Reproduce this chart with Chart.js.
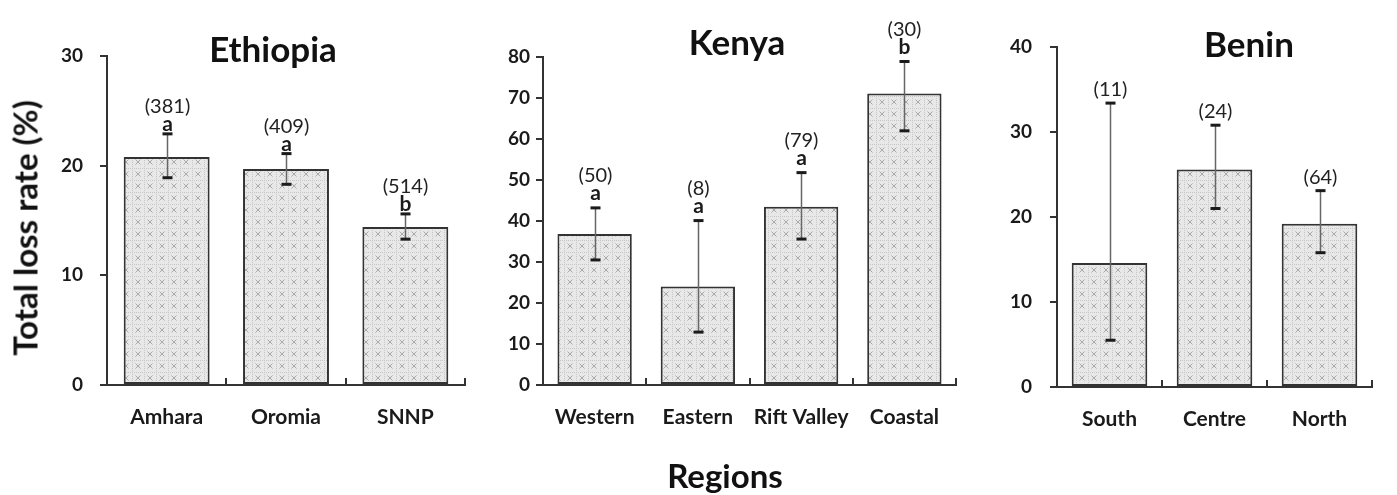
<!DOCTYPE html>
<html>
<head>
<meta charset="utf-8">
<script src="https://cdn.jsdelivr.net/npm/chart.js@4.4.1/dist/chart.umd.min.js"></script>
<style>
  html, body { margin: 0; padding: 0; background: #fff; }
  #wrap { position: relative; width: 1397px; height: 495px; overflow: hidden; font-family: Lato, sans-serif; }
  #wrap canvas { position: absolute; top: 0; }
  .axis-title { position: absolute; font-weight: bold; color: #111; white-space: nowrap; line-height: 1; }
  #ytitle { left: 25px; top: 228px; font-size: 33px; transform: translate(-50%, -50%) rotate(-90deg); }
  #xtitle { left: 725px; top: 475px; font-size: 33px; transform: translate(-50%, -50%); }
</style>
</head>
<body>
<div id="wrap">
  <canvas id="c-eth" width="480" height="495" style="left:0px"></canvas>
  <canvas id="c-ken" width="500" height="495" style="left:480px"></canvas>
  <canvas id="c-ben" width="417" height="495" style="left:980px"></canvas>
  <div class="axis-title" id="ytitle">Total loss rate (%)</div>
  <div class="axis-title" id="xtitle">Regions</div>
</div>
<script>
// ---- Ethiopia ----
const ethiopiaRegions = ['Amhara', 'Oromia', 'SNNP'];
const ethiopiaLoss    = [20.8, 19.7, 14.4];
const ethiopiaLow     = [18.9, 18.3, 13.3];
const ethiopiaHigh    = [22.9, 21.1, 15.6];
const ethiopiaCounts  = ['(381)', '(409)', '(514)'];
const ethiopiaGroups  = ['a', 'a', 'b'];
const ethiopiaAxisMax = 30;
const ethiopiaAxisStep = 10;

// ---- Kenya ----
const kenyaRegions = ['Western', 'Eastern', 'Rift Valley', 'Coastal'];
const kenyaLoss    = [36.8, 24.0, 43.5, 71.1];
const kenyaLow     = [30.5, 12.9, 35.6, 62.0];
const kenyaHigh    = [43.2, 40.1, 51.8, 78.9];
const kenyaCounts  = ['(50)', '(8)', '(79)', '(30)'];
const kenyaGroups  = ['a', 'a', 'a', 'b'];
const kenyaAxisMax = 80;
const kenyaAxisStep = 10;

// ---- Benin ----
const beninRegions = ['South', 'Centre', 'North'];
const beninLoss    = [14.6, 25.6, 19.2];
const beninLow     = [5.5, 21.0, 15.8];
const beninHigh    = [33.4, 30.8, 23.1];
const beninCounts  = ['(11)', '(24)', '(64)'];
const beninGroups  = ['', '', ''];
const beninAxisMax = 40;
const beninAxisStep = 10;

const FONT = 'Lato, "Open Sans", sans-serif';
const INK = '#1b1b1b';

// Light grey fill with a small grid of crosses, used for every bar
function crossPattern() {
  const c = document.createElement('canvas');
  c.width = 12; c.height = 12;
  const g = c.getContext('2d');
  g.fillStyle = '#e8e8e8';
  g.fillRect(0, 0, 12, 12);
  g.strokeStyle = '#a9a9a9';
  g.lineWidth = 1;
  g.beginPath();
  g.moveTo(3.5, 3.5); g.lineTo(8.5, 8.5);
  g.moveTo(8.5, 3.5); g.lineTo(3.5, 8.5);
  g.stroke();
  g.fillStyle = '#c6c6c6';
  for (let x = 0; x < 12; x += 2) g.fillRect(x, 0, 1, 1);
  for (let y = 0; y < 12; y += 2) g.fillRect(0, y, 1, 1);
  return g.createPattern(c, 'repeat');
}

// Error bars, sample sizes, group letters, inward category ticks and the panel title
const panelDecor = {
  id: 'panelDecor',
  afterDatasetsDraw(chart) {
    const o = chart.options.plugins.panelDecor;
    const ctx = chart.ctx;
    const xs = chart.scales.x, ys = chart.scales.y;
    const meta = chart.getDatasetMeta(0);
    const area = chart.chartArea;
    ctx.save();

    // category boundary ticks pointing up from the x axis
    ctx.strokeStyle = '#333';
    ctx.lineWidth = 2;
    const n = o.categories.length;
    for (let i = 1; i <= n; i++) {
      const bx = i < n ? (xs.getPixelForTick(i - 1) + xs.getPixelForTick(i)) / 2 : area.right;
      ctx.beginPath();
      ctx.moveTo(Math.round(bx), area.bottom);
      ctx.lineTo(Math.round(bx), area.bottom - 7);
      ctx.stroke();
    }

    meta.data.forEach((bar, i) => {
      const x = Math.round(bar.x) + 0.5;
      const yHi = ys.getPixelForValue(o.high[i]);
      const yLo = ys.getPixelForValue(o.low[i]);
      ctx.strokeStyle = '#666';
      ctx.lineWidth = 1.5;
      ctx.beginPath();
      ctx.moveTo(x, yLo);
      ctx.lineTo(x, yHi);
      ctx.stroke();
      ctx.fillStyle = INK;
      ctx.fillRect(x - 5, yHi - 1.5, 10, 3);
      ctx.fillRect(x - 5, yLo - 1.5, 10, 3);

      ctx.textAlign = 'center';
      ctx.textBaseline = 'alphabetic';
      let base = yHi - o.letterGap;
      if (o.groups[i]) {
        ctx.font = 'bold 21px ' + FONT;
        ctx.fillStyle = INK;
        ctx.fillText(o.groups[i], x, base);
        base -= 18;
      } else {
        base -= 1;
      }
      ctx.font = '20px ' + FONT;
      ctx.fillStyle = '#222';
      ctx.fillText(o.counts[i], x, base);
    });

    ctx.font = 'bold 35px ' + FONT;
    ctx.fillStyle = '#111';
    ctx.textAlign = 'center';
    ctx.textBaseline = 'alphabetic';
    ctx.fillText(o.title, o.titleX, o.titleBase);
    ctx.restore();
  }
};

function makePanel(p) {
  return new Chart(document.getElementById(p.id), {
    type: 'bar',
    data: {
      labels: p.categories,
      datasets: [{
        data: p.loss,
        backgroundColor: crossPattern(),
        borderColor: '#333',
        borderWidth: 2,
        borderSkipped: false,
        barPercentage: 0.72,
        categoryPercentage: 1.0
      }]
    },
    options: {
      responsive: false,
      animation: false,
      events: [],
      layout: { padding: { top: p.padTop, right: p.padRight, left: 0, bottom: 0 } },
      plugins: {
        legend: { display: false },
        tooltip: { enabled: false },
        title: { display: false },
        panelDecor: p
      },
      scales: {
        x: {
          offset: true,
          grid: { display: true, drawOnChartArea: false, drawTicks: false },
          border: { display: true, color: '#333', width: 2 },
          ticks: { color: '#1a1a1a', font: { family: FONT, weight: 'bold', size: 21 }, padding: 20, maxRotation: 0, autoSkip: false },
          afterFit(s) { s.height = p.xHeight; }
        },
        y: {
          min: 0,
          max: p.axisMax,
          ticks: { stepSize: p.axisStep, color: '#1a1a1a', font: { family: FONT, weight: 'bold', size: 19 }, padding: p.yPad },
          grid: { display: true, drawOnChartArea: false, drawTicks: true, tickLength: 7, color: '#333', lineWidth: 2 },
          border: { display: true, color: '#333', width: 2 },
          afterFit(s) { s.width = p.yWidth; }
        }
      }
    },
    plugins: [panelDecor]
  });
}

const panels = [
  { id: 'c-eth', categories: ethiopiaRegions, loss: ethiopiaLoss, low: ethiopiaLow, high: ethiopiaHigh,
    counts: ethiopiaCounts, groups: ethiopiaGroups, axisMax: ethiopiaAxisMax, axisStep: ethiopiaAxisStep,
    title: 'Ethiopia', titleX: 273, titleBase: 62, letterGap: 3,
    padTop: 56, padRight: 15, xHeight: 110, yWidth: 107, yPad: 17 },
  { id: 'c-ken', categories: kenyaRegions, loss: kenyaLoss, low: kenyaLow, high: kenyaHigh,
    counts: kenyaCounts, groups: kenyaGroups, axisMax: kenyaAxisMax, axisStep: kenyaAxisStep,
    title: 'Kenya', titleX: 257, titleBase: 55, letterGap: 8,
    padTop: 57, padRight: 24, xHeight: 110, yWidth: 63, yPad: 6 },
  { id: 'c-ben', categories: beninRegions, loss: beninLoss, low: beninLow, high: beninHigh,
    counts: beninCounts, groups: beninGroups, axisMax: beninAxisMax, axisStep: beninAxisStep,
    title: 'Benin', titleX: 269, titleBase: 57, letterGap: 6,
    padTop: 47, padRight: 25, xHeight: 108, yWidth: 77, yPad: 18 }
];

const fontLoads = [
  document.fonts.load('bold 21px Lato'),
  document.fonts.load('20px Lato'),
  document.fonts.load('bold 35px Lato')
];
Promise.all(fontLoads).catch(() => {}).then(() => panels.forEach(makePanel));
</script>
</body>
</html>
